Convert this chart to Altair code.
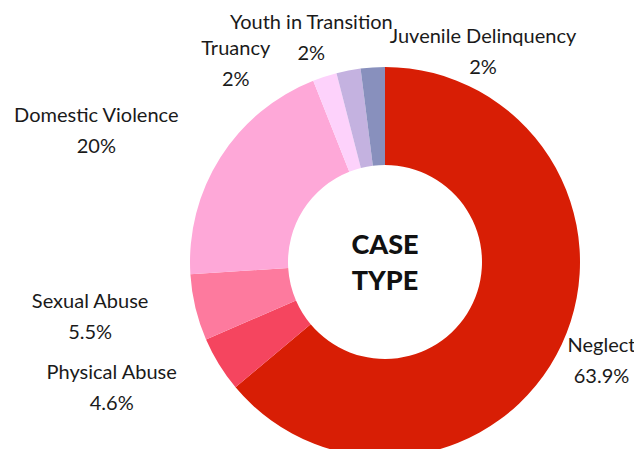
import math
import altair as alt
import pandas as pd

categories = ["Neglect", "Physical Abuse", "Sexual Abuse", "Domestic Violence",
              "Truancy", "Youth in Transition", "Juvenile Delinquency"]
values = [63.9, 4.6, 5.5, 20, 2, 2, 2]
colors = ["#D81E05", "#F5455F", "#FD7A9E", "#FEA8D8", "#FDD2FB", "#C4B2E0", "#8890BD"]

# label layout: angular nudge (degrees) from slice middle and radius (px)
label_nudge = [-0.5, 6.9, 2.9, -8, -19, -7.4, 28.6]
label_radius = [238, 301, 300, 317, 248, 236, 232]

total = sum(values)
cum = 0
rows = []
for i, (c, v) in enumerate(zip(categories, values)):
    mid = (cum + v / 2) / total * 2 * math.pi
    cum += v
    rows.append({
        "category": c,
        "value": v,
        "order": i,
        "label": f"{c}\n{v:g}%",
        "label_theta": mid + math.radians(label_nudge[i]),
        "label_r": label_radius[i],
    })
df = pd.DataFrame(rows)

W, H = 626, 441
CX, CY = 377, 254

base = alt.Chart(df)

arcs = base.mark_arc(outerRadius=195, innerRadius=97).encode(
    theta=alt.Theta("value:Q", stack=True),
    order=alt.Order("order:Q"),
    color=alt.Color("category:N", scale=alt.Scale(domain=categories, range=colors), legend=None),
    x=alt.value(CX),
    y=alt.value(CY),
)

labels = base.mark_text(
    font="Lato", fontSize=20, color="#1a1a1a", lineBreak="\n", lineHeight=31,
    align="center", baseline="middle", dy=-15,
).encode(
    theta=alt.Theta("label_theta:Q", scale=None),
    radius=alt.Radius("label_r:Q", scale=None),
    text="label:N",
    x=alt.value(CX),
    y=alt.value(CY),
)

center = alt.Chart(pd.DataFrame({"t": ["CASE\nTYPE"]})).mark_text(
    font="Lato", fontSize=27, fontWeight=900, color="#111111", lineBreak="\n",
    lineHeight=36, align="center", baseline="middle", dy=-17,
).encode(text="t:N", x=alt.value(CX), y=alt.value(CY + 1))

chart = alt.layer(arcs, labels, center).properties(
    width=W, height=H, padding=0, autosize=alt.AutoSizeParams(type="none")
).configure_view(stroke=None)

chart.save("out.html", embed_options={"renderer": "svg", "actions": False})
